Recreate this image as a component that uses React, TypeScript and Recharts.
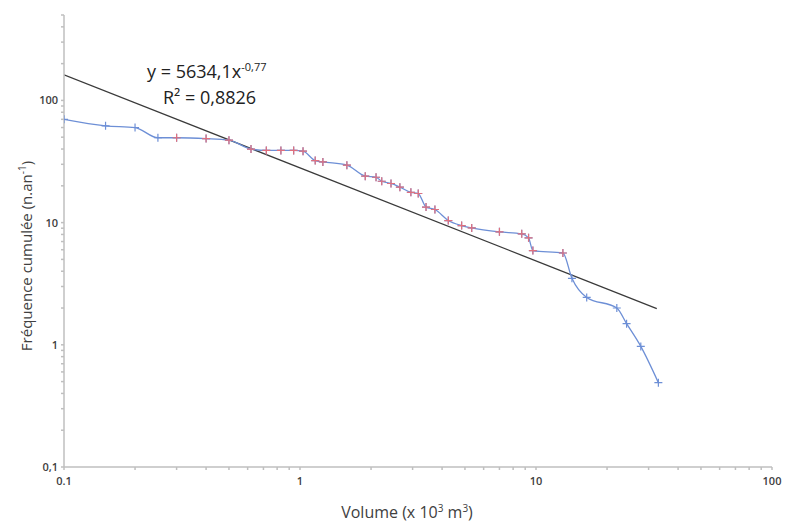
import React from 'react';
import { LineChart, Line, XAxis, YAxis } from 'recharts';

// observed points: volume (x 10^3 m3) and cumulated frequency (n/year)
const volumes = [
  0.1, 0.15, 0.2, 0.25, 0.3, 0.4, 0.5, 0.62, 0.72, 0.83, 0.94, 1.03, 1.16, 1.25,
  1.58, 1.89, 2.1, 2.22, 2.43, 2.65, 2.95, 3.17, 3.42, 3.73, 4.25, 4.84, 5.34,
  7.0, 8.7, 9.3, 9.7, 13.0, 14.2, 16.4, 22, 24.2, 27.8, 33,
];
const frequencies = [
  70, 62, 60, 49.5, 49.5, 48.7, 47.3, 40, 39, 39, 39, 38.4, 32.2, 31.4, 29.5, 24,
  23.5, 21.8, 20.9, 19.5, 17.7, 17.3, 13.4, 12.8, 10.4, 9.45, 9.05, 8.4, 8.1, 7.5,
  5.9, 5.64, 3.5, 2.44, 2.0, 1.49, 0.97, 0.49,
];

// power trend line end points
const trendVolumes = [0.1, 32.5];
const trendFrequencies = [162, 1.98];

const xTicks = [
  0.1, 0.2, 0.3, 0.4, 0.5, 0.6, 0.7, 0.8, 0.9, 1, 2, 3, 4, 5, 6, 7, 8, 9, 10, 20,
  30, 40, 50, 60, 70, 80, 90, 100,
];
const yTicks = [
  0.1, 0.2, 0.3, 0.4, 0.5, 0.6, 0.7, 0.8, 0.9, 1, 2, 3, 4, 5, 6, 7, 8, 9, 10, 20,
  30, 40, 50, 60, 70, 80, 90, 100, 200, 300, 400, 500,
];
const xLabels: Record<number, string> = { 0.1: '0.1', 1: '1', 10: '10', 100: '100' };
const yLabels: Record<number, string> = { 0.1: '0,1', 1: '1', 10: '10', 100: '100' };

const observed = volumes.map((x, i) => ({ x, y: frequencies[i] }));
const highlighted = observed.filter((p) => p.x >= 0.3 && p.x <= 13);
const trend = trendVolumes.map((x, i) => ({ x, y: trendFrequencies[i] }));

const BLUE = '#6d8fd6';
const RED = '#e0707e';
const AXIS = '#bfbfbf';
const TEXT = '#404040';

const cross = (color: string) => (props: any) => {
  const { cx, cy, index } = props;
  if (cx == null || cy == null) return <g key={`d-${index}`} />;
  return (
    <path
      key={`d-${index}`}
      d={`M${cx - 4},${cy}H${cx + 4}M${cx},${cy - 4}V${cy + 4}`}
      stroke={color}
      strokeWidth={1.2}
      fill="none"
    />
  );
};

const tickStyle = { fontSize: 11, fill: TEXT, fontFamily: 'Open Sans, sans-serif', fontWeight: 600 };

export default function App() {
  return (
    <div
      style={{
        position: 'absolute',
        left: 0,
        top: 0,
        width: 795,
        height: 522,
        background: '#fff',
        fontFamily: 'Open Sans, sans-serif',
        color: TEXT,
      }}
    >
      <LineChart width={795} height={522} margin={{ top: 15, right: 23, left: 14, bottom: 25 }}>
        <XAxis
          type="number"
          dataKey="x"
          scale="log"
          domain={[0.1, 100]}
          ticks={xTicks}
          allowDataOverflow
          interval={0}
          tickFormatter={(v: number) => xLabels[v] ?? ''}
          tick={tickStyle}
          tickSize={3}
          tickMargin={7}
          stroke={AXIS}
          strokeWidth={1.5}
          height={30}
        />
        <YAxis
          type="number"
          dataKey="y"
          scale="log"
          domain={[0.1, 500]}
          ticks={yTicks}
          allowDataOverflow
          interval={0}
          tickFormatter={(v: number) => yLabels[v] ?? ''}
          tick={tickStyle}
          tickSize={3}
          tickMargin={3}
          stroke={AXIS}
          strokeWidth={1.5}
          width={50}
        />
        <Line
          data={trend}
          dataKey="y"
          type="linear"
          stroke="#3a3a3a"
          strokeWidth={1.3}
          dot={false}
          isAnimationActive={false}
        />
        <Line
          data={observed}
          dataKey="y"
          type="monotone"
          stroke={BLUE}
          strokeWidth={1.3}
          dot={cross(BLUE)}
          isAnimationActive={false}
        />
        <Line
          data={highlighted}
          dataKey="y"
          type="linear"
          stroke="none"
          dot={cross(RED)}
          isAnimationActive={false}
        />
      </LineChart>

      <div style={{ position: 'absolute', left: 147, top: 59, fontSize: 18, color: '#222', whiteSpace: 'nowrap' }}>
        y = 5634,1x<sup style={{ fontSize: 11 }}>-0,77</sup>
      </div>
      <div style={{ position: 'absolute', left: 163, top: 85, fontSize: 18, color: '#222', whiteSpace: 'nowrap' }}>
        R² = 0,8826
      </div>

      <div
        style={{
          position: 'absolute',
          left: 22 - 140,
          top: 256 - 10,
          width: 280,
          height: 20,
          lineHeight: '20px',
          textAlign: 'center',
          fontSize: 15,
          transform: 'rotate(-90deg)',
          whiteSpace: 'nowrap',
        }}
      >
        Fréquence cumulée (n.an<sup style={{ fontSize: 10 }}>-1</sup>)
      </div>
      <div
        style={{
          position: 'absolute',
          left: 407 - 120,
          top: 501,
          width: 240,
          textAlign: 'center',
          fontSize: 16,
          whiteSpace: 'nowrap',
        }}
      >
        Volume (x 10<sup style={{ fontSize: 10 }}>3</sup> m<sup style={{ fontSize: 10 }}>3</sup>)
      </div>
    </div>
  );
}
